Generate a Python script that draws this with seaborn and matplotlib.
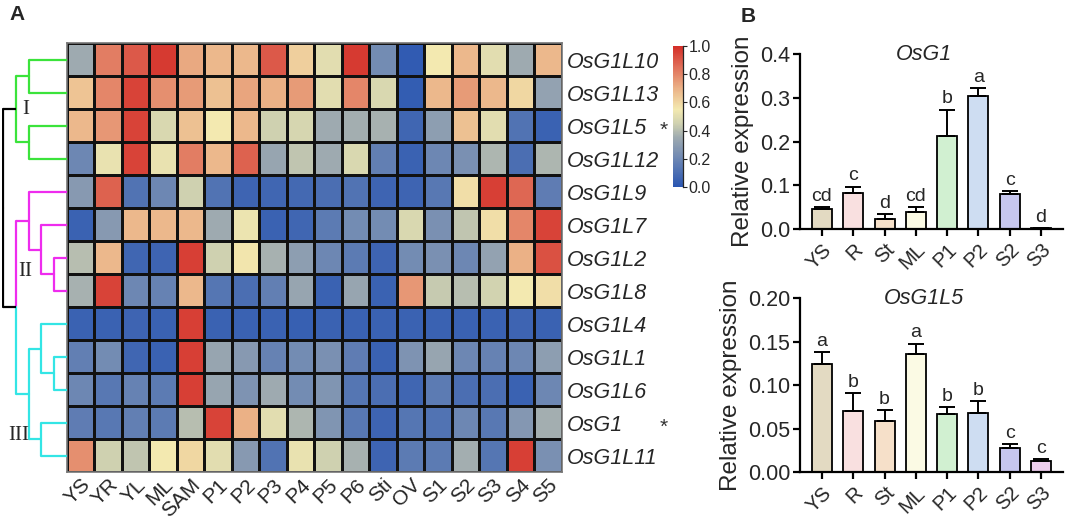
import numpy as np
import pandas as pd
import matplotlib
matplotlib.use("Agg")
import matplotlib.pyplot as plt
import seaborn as sns
from matplotlib.colors import LinearSegmentedColormap

sns.set_style("white")
plt.rcParams["font.family"] = ["Liberation Sans", "DejaVu Sans"]

# ---------------- data: heatmap ----------------
tissues = ["YS", "YR", "YL", "ML", "SAM", "P1", "P2", "P3", "P4", "P5", "P6",
           "Sti", "OV", "S1", "S2", "S3", "S4", "S5"]
genes = ["OsG1L10", "OsG1L13", "OsG1L5", "OsG1L12", "OsG1L9", "OsG1L7", "OsG1L2",
         "OsG1L8", "OsG1L4", "OsG1L1", "OsG1L6", "OsG1", "OsG1L11"]
starred = ["OsG1L5", "OsG1"]

r_L10 = [0.35, 0.82, 0.90, 0.97, 0.72, 0.68, 0.68, 0.90, 0.62, 0.50, 0.97, 0.22, 0.02, 0.55, 0.68, 0.50, 0.35, 0.68]
r_L13 = [0.65, 0.80, 0.95, 0.78, 0.75, 0.66, 0.73, 0.70, 0.75, 0.50, 0.80, 0.48, 0.03, 0.68, 0.75, 0.68, 0.60, 0.32]
r_L5  = [0.68, 0.76, 0.95, 0.48, 0.66, 0.55, 0.68, 0.45, 0.47, 0.35, 0.36, 0.37, 0.07, 0.30, 0.66, 0.50, 0.12, 0.05]
r_L12 = [0.20, 0.52, 0.95, 0.52, 0.82, 0.68, 0.88, 0.33, 0.42, 0.35, 0.48, 0.17, 0.05, 0.20, 0.24, 0.38, 0.10, 0.38]
r_L9  = [0.28, 0.88, 0.12, 0.20, 0.45, 0.12, 0.06, 0.07, 0.08, 0.10, 0.12, 0.06, 0.06, 0.14, 0.58, 0.96, 0.87, 0.16]
r_L7  = [0.05, 0.28, 0.68, 0.68, 0.68, 0.35, 0.53, 0.05, 0.07, 0.15, 0.22, 0.22, 0.48, 0.24, 0.42, 0.58, 0.80, 0.95]
r_L2  = [0.40, 0.68, 0.07, 0.06, 0.96, 0.45, 0.56, 0.37, 0.30, 0.20, 0.15, 0.06, 0.22, 0.24, 0.20, 0.32, 0.70, 0.92]
r_L8  = [0.37, 0.95, 0.20, 0.18, 0.68, 0.13, 0.10, 0.17, 0.33, 0.05, 0.33, 0.05, 0.76, 0.43, 0.40, 0.46, 0.55, 0.58]
r_L4  = [0.05, 0.05, 0.06, 0.05, 0.96, 0.05, 0.05, 0.05, 0.04, 0.05, 0.05, 0.05, 0.05, 0.05, 0.05, 0.05, 0.06, 0.05]
r_L1  = [0.17, 0.22, 0.07, 0.05, 0.96, 0.33, 0.28, 0.18, 0.22, 0.24, 0.16, 0.05, 0.25, 0.33, 0.20, 0.18, 0.20, 0.30]
r_L6  = [0.20, 0.14, 0.18, 0.15, 0.96, 0.33, 0.25, 0.35, 0.22, 0.26, 0.13, 0.10, 0.07, 0.15, 0.10, 0.10, 0.05, 0.20]
r_G1  = [0.16, 0.14, 0.17, 0.15, 0.40, 0.95, 0.70, 0.50, 0.38, 0.26, 0.14, 0.06, 0.13, 0.12, 0.20, 0.14, 0.27, 0.36]
r_L11 = [0.78, 0.45, 0.42, 0.55, 0.60, 0.50, 0.28, 0.12, 0.52, 0.45, 0.37, 0.06, 0.15, 0.15, 0.36, 0.13, 0.96, 0.24]

# dendrogram structure: (child_a, child_b, height, colour); leaves are 0..12, merges numbered from 13
merges = [
    (0, 1, 3.0, "#3be33b"),    # 13
    (2, 3, 3.0, "#3be33b"),    # 14
    (13, 14, 4.0, "#3be33b"),  # 15  cluster I
    (6, 7, 1.0, "#ee2cee"),    # 16
    (5, 16, 2.0, "#ee2cee"),   # 17
    (4, 17, 3.0, "#ee2cee"),   # 18  cluster II
    (9, 10, 1.0, "#33e5e5"),   # 19
    (8, 19, 2.0, "#33e5e5"),   # 20
    (11, 12, 2.0, "#33e5e5"),  # 21
    (20, 21, 3.0, "#33e5e5"),  # 22  cluster III
    (18, 22, 4.0, None),       # 23  II + III
    (15, 23, 5.0, "black"),    # 24  root
]
cluster_labels = ["I", "II", "III"]
cluster_label_rows = [2.0, 6.9, 11.9]
cluster_label_h = [3.2, 3.25, 3.75]

# ---------------- data: bar charts ----------------
bar_tissues = ["YS", "R", "St", "ML", "P1", "P2", "S2", "S3"]
bar_colors = ["#e8dcbc", "#fddcdc", "#fde0c2", "#fffde0", "#ccf5cc", "#c8dcf8", "#c0c0f6", "#f2c8f2"]
g1_mean = [0.046, 0.082, 0.024, 0.040, 0.213, 0.303, 0.080, 0.002]
g1_err = [0.005, 0.015, 0.010, 0.011, 0.060, 0.019, 0.007, 0.001]
g1_letters = ["cd", "c", "d", "cd", "b", "a", "c", "d"]
l5_mean = [0.124, 0.071, 0.059, 0.136, 0.067, 0.068, 0.028, 0.013]
l5_err = [0.014, 0.020, 0.013, 0.012, 0.008, 0.014, 0.005, 0.002]
l5_letters = ["a", "b", "b", "a", "b", "b", "c", "c"]

# ---------------- figure ----------------
W, H = 1065, 521
fig = plt.figure(figsize=(W / 100, H / 100), dpi=100)

def rect(x0, y0, x1, y1):
    return [x0 / W, 1 - y1 / H, (x1 - x0) / W, (y1 - y0) / H]

ax_hm = fig.add_axes(rect(66.7, 43.3, 561.7, 472.3))
ax_dg = fig.add_axes(rect(2, 43.3, 66.7, 472.3))
ax_cb = fig.add_axes(rect(673, 46, 683, 187))
ax_b1 = fig.add_axes(rect(800, 54, 1063, 229))
ax_b2 = fig.add_axes(rect(800, 298.3, 1063, 472.3))

cmap = LinearSegmentedColormap.from_list("expr", [
    (0.00, "#2a56b2"),
    (0.20, "#6d87b3"),
    (0.35, "#9eaab0"),
    (0.45, "#cfd1b0"),
    (0.55, "#f3e9b0"),
    (0.70, "#ebb287"),
    (0.85, "#e0705a"),
    (1.00, "#d42e28"),
])

data = pd.DataFrame([r_L10, r_L13, r_L5, r_L12, r_L9, r_L7, r_L2, r_L8, r_L4, r_L1, r_L6, r_G1, r_L11],
                    index=genes, columns=tissues)
sns.heatmap(data, cmap=cmap, vmin=0, vmax=1, linewidths=0.9, linecolor="#111111",
            ax=ax_hm, cbar_ax=ax_cb, xticklabels=tissues, yticklabels=genes)
ax_hm.yaxis.tick_right()
ax_hm.set_yticklabels(genes, rotation=0, style="italic", fontsize=15.5)
ax_hm.set_xticklabels(tissues, rotation=45, ha="right", rotation_mode="anchor", fontsize=15)
ax_hm.tick_params(axis="both", length=0, pad=2)
ax_hm.tick_params(axis="y", pad=4)
ax_hm.set_xlabel("")
ax_hm.set_ylabel("")
for sp in ax_hm.spines.values():
    sp.set_visible(True)
    sp.set_color("#777777")
    sp.set_linewidth(1.2)
for g in starred:
    i = genes.index(g)
    ax_hm.text(21.7, i + 0.64, "*", ha="center", va="center", fontsize=15,
               color="#333333", clip_on=False, transform=ax_hm.transData)

# colorbar
cb = ax_hm.collections[0].colorbar
cb.set_ticks([0, 0.2, 0.4, 0.6, 0.8, 1.0])
cb.set_ticklabels(["0.0", "0.2", "0.4", "0.6", "0.8", "1.0"])
cb.ax.tick_params(labelsize=11.5, length=3, width=0.8, pad=1)
cb.outline.set_visible(False)
ax_cb.spines["right"].set_visible(True)
ax_cb.spines["right"].set_linewidth(0.9)

# dendrogram
n = len(genes)
pos = {i: i + 0.5 for i in range(n)}
hgt = {i: 0.0 for i in range(n)}
for k, (a, b, h, c) in enumerate(merges):
    node = n + k
    ca = c if c is not None else merges[a - n][3]
    cbc = c if c is not None else merges[b - n][3]
    ax_dg.plot([hgt[a], h], [pos[a], pos[a]], color=ca, lw=1.6, solid_capstyle="butt")
    ax_dg.plot([hgt[b], h], [pos[b], pos[b]], color=cbc, lw=1.6, solid_capstyle="butt")
    mid = (pos[a] + pos[b]) / 2
    ax_dg.plot([h, h], [pos[a], mid], color=ca, lw=1.6)
    ax_dg.plot([h, h], [mid, pos[b]], color=cbc, lw=1.6)
    pos[node] = mid
    hgt[node] = h
ax_dg.set_ylim(n, 0)
ax_dg.set_xlim(5.1, 0)
ax_dg.axis("off")
for lab, r, h in zip(cluster_labels, cluster_label_rows, cluster_label_h):
    ax_dg.text(h, r, lab, ha="center", va="center", fontsize=15,
               family="Liberation Serif")

# bar charts
def bar_panel(ax, means, errs, letters, title, yticks, fmt):
    x = np.arange(len(bar_tissues))
    sns.barplot(x=bar_tissues, y=means, hue=bar_tissues, palette=bar_colors,
                legend=False, edgecolor="black", linewidth=1.3, width=0.64,
                errorbar=None, ax=ax)
    ax.errorbar(x, means, yerr=[np.zeros(len(errs)), errs], fmt="none",
                ecolor="black", elinewidth=1.4, capsize=5.5, capthick=1.4)
    span = yticks[-1]
    for xi, m, e, t in zip(x, means, errs, letters):
        ax.text(xi, m + e + span * 0.012, t, ha="center", va="bottom", fontsize=14)
    ax.set_xlim(-0.7, 7.7)
    ax.set_ylim(0, yticks[-1])
    ax.set_yticks(yticks)
    ax.set_yticklabels([fmt.format(v) for v in yticks], fontsize=15.5)
    ax.set_xticks(x)
    ax.set_xticklabels(bar_tissues, rotation=45, ha="right", rotation_mode="anchor", fontsize=14.5)
    ax.set_ylabel("Relative expression", fontsize=17.5, labelpad=4)
    sns.despine(ax=ax)
    for s in ["left", "bottom"]:
        ax.spines[s].set_linewidth(1.6)
        ax.spines[s].set_color("black")
    ax.tick_params(axis="both", which="major", direction="out", length=5, width=1.6,
                   color="black", bottom=True, left=True, pad=2)
    ax.tick_params(axis="x", pad=3)
    ax.text(0.47, 1.0, title, transform=ax.transAxes, ha="center", va="center",
            fontsize=15.5, style="italic")

bar_panel(ax_b1, g1_mean, g1_err, g1_letters, "OsG1", [0.0, 0.1, 0.2, 0.3, 0.4], "{:.1f}")
bar_panel(ax_b2, l5_mean, l5_err, l5_letters, "OsG1L5", [0.00, 0.05, 0.10, 0.15, 0.20], "{:.2f}")

fig.text(9 / W, 1 - 15 / H, "A", fontsize=15, fontweight="bold", va="center")
fig.text(741 / W, 1 - 17 / H, "B", fontsize=15, fontweight="bold", va="center")

fig.savefig("out.png", dpi=100)
